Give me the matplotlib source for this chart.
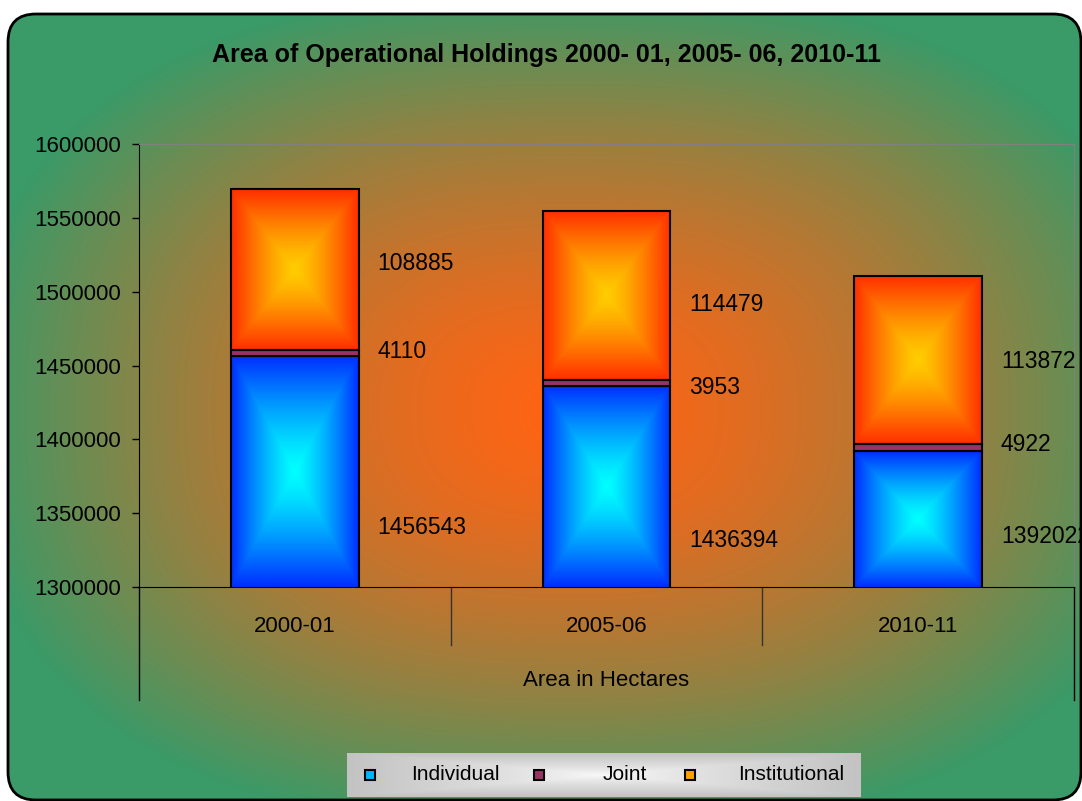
import numpy as np
import matplotlib
matplotlib.use("Agg")
import matplotlib.pyplot as plt
from matplotlib.patches import FancyBboxPatch

plt.rcParams['font.family'] = ['Liberation Sans', 'DejaVu Sans']

years = ["2000-01", "2005-06", "2010-11"]
individual = [1456543, 1436394, 1392022]
joint = [4110, 3953, 4922]
institutional = [108885, 114479, 113872]
series_names = ["Individual", "Joint", "Institutional"]

# value labels were placed by hand in the original, y in data units
label_y = [
    [1340600, 1459800, 1519400],
    [1331800, 1435400, 1491000],
    [1333900, 1396800, 1452400],
]

W, H = 1082, 801


def rect_gradient(center, edge, n=200, power=1.0):
    u = np.linspace(-1, 1, n)
    U, V = np.meshgrid(u, u)
    t = np.maximum(np.abs(U), np.abs(V)) ** power
    c = np.array(center) / 255.0
    e = np.array(edge) / 255.0
    return c * (1 - t)[..., None] + e * t[..., None]


fig = plt.figure(figsize=(W / 100, H / 100), dpi=100)

# background: rounded frame with orange centre fading to green
bg = fig.add_axes([0, 0, 1, 1])
bg.set_xlim(0, W)
bg.set_ylim(H, 0)
bg.axis('off')

yy, xx = np.mgrid[0:H, 0:W]
p = 2.5
s = ((np.abs(xx - 570) / 600) ** p + (np.abs(yy - 410) / 420) ** p) ** (1 / p)
s = np.clip(s, 0, 1) ** 1.5
orange = np.array([255, 100, 20]) / 255.0
green = np.array([58, 154, 104]) / 255.0
bg_img = orange * (1 - s)[..., None] + green * s[..., None]
im = bg.imshow(bg_img, extent=(0, W, H, 0), aspect='auto', interpolation='bilinear')
frame = FancyBboxPatch((8, 14), 1073, 786, boxstyle="round,pad=0,rounding_size=28",
                       fc='none', ec='black', lw=2, zorder=3)
bg.add_patch(frame)
im.set_clip_path(frame)

# legend box
bg.imshow(rect_gradient((250, 250, 250), (195, 195, 195), power=0.8),
          extent=(347, 861, 797, 753), aspect='auto', zorder=2)
legend_colors = ["#00B4FF", "#993366", "#FFA000"]
marker_x = [370, 539, 690]
text_x = [411, 603, 738]
for name, c, mx, tx in zip(series_names, legend_colors, marker_x, text_x):
    bg.plot(mx, 775, marker='s', markersize=7, markerfacecolor=c,
            markeredgecolor='black', markeredgewidth=1.5, zorder=4)
    bg.text(tx, 775, name, fontsize=15, va='center', ha='left', zorder=4)
bg.set_xlim(0, W)
bg.set_ylim(H, 0)

fig.text(547 / W, 1 - 55 / H, "Area of Operational Holdings 2000- 01, 2005- 06, 2010-11",
         ha='center', va='center', fontsize=18, fontweight='bold')

# plot area
ax = fig.add_axes([139 / W, 1 - 587 / H, (1074 - 139) / W, (587 - 144) / H])
ax.patch.set_alpha(0)
ymin, ymax = 1300000, 1600000

x = np.arange(len(years))
bottom2 = [a + b for a, b in zip(individual, joint)]
b1 = ax.bar(x, individual, 0.41, color='none', edgecolor='black', lw=1.5, zorder=3)
b2 = ax.bar(x, joint, 0.41, bottom=individual, color='#993366', edgecolor='black', lw=1.5, zorder=3)
b3 = ax.bar(x, institutional, 0.41, bottom=bottom2, color='none', edgecolor='black', lw=1.5, zorder=3)

for bars, cen, edg in [(b1, (0, 255, 255), (0, 45, 255)), (b3, (255, 205, 0), (255, 45, 0))]:
    for patch in bars:
        x0 = patch.get_x()
        y0 = max(patch.get_y(), ymin)
        y1 = patch.get_y() + patch.get_height()
        g = ax.imshow(rect_gradient(cen, edg, power=1.3),
                      extent=(x0, x0 + patch.get_width(), y0, y1),
                      origin='lower', aspect='auto', zorder=2)
        g.set_clip_path(patch)

for i in range(len(years)):
    vals = [individual[i], joint[i], institutional[i]]
    for v, ly in zip(vals, label_y[i]):
        ax.text(x[i] + 0.265, ly, str(v), fontsize=16.5, va='center', ha='left')

ax.set_xlim(-0.5, 2.5)
ax.set_ylim(ymin, ymax)
ax.set_yticks(range(ymin, ymax + 1, 50000))
ax.set_yticklabels([str(v) for v in range(ymin, ymax + 1, 50000)])
ax.tick_params(axis='y', labelsize=16, length=5, width=1, pad=8)
ax.set_xticks(x, years)
ax.tick_params(axis='x', labelsize=16, length=0, pad=21)
for side in ['top', 'right']:
    ax.spines[side].set_color('#808080')
for side in ['left', 'bottom']:
    ax.spines[side].set_color('black')

trans = ax.get_xaxis_transform()
for xs in [0.5, 1.5]:
    ax.plot([xs, xs], [0, -58 / 443], transform=trans, clip_on=False, color='#333333', lw=1)
for xs in [-0.5, 2.5]:
    ax.plot([xs, xs], [0, -113 / 443], transform=trans, clip_on=False, color='black', lw=1)
ax.text(1, -(680 - 587) / 443, "Area in Hectares", transform=trans, fontsize=16,
        ha='center', va='center')

fig.savefig("out.png", dpi=100)
